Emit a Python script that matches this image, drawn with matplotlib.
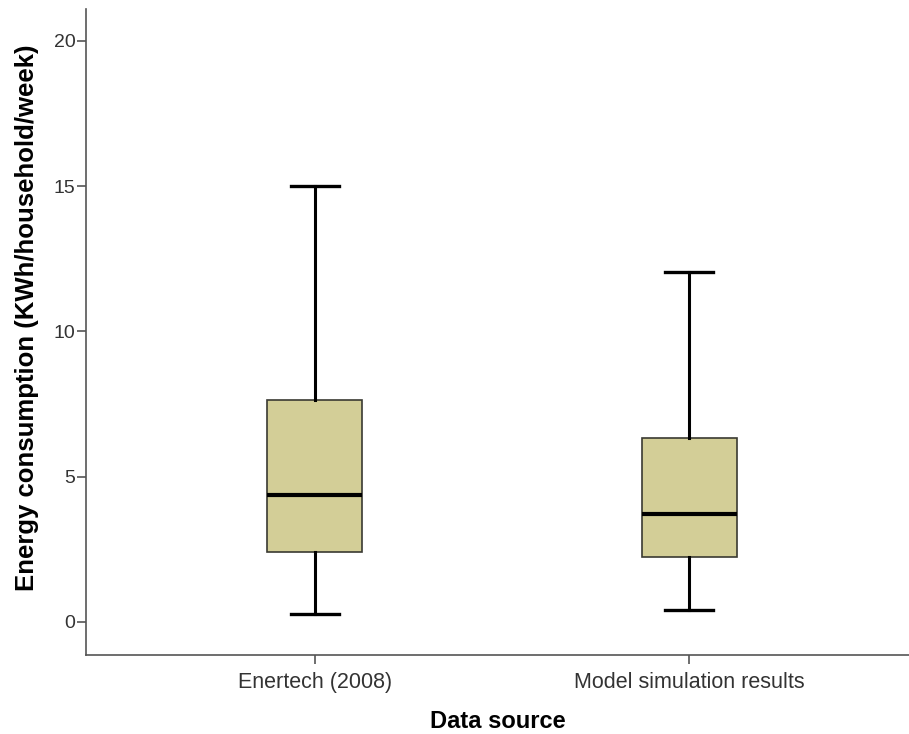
import matplotlib
matplotlib.use("Agg")
import matplotlib.pyplot as plt

# data
sources = ["Enertech (2008)", "Model simulation results"]
whisker_low = [0.27, 0.41]
q1 = [2.42, 2.23]
medians = [4.36, 3.71]
q3 = [7.64, 6.34]
whisker_high = [15.01, 12.05]
yticks = [0, 5, 10, 15, 20]

plt.rcParams['font.family'] = ['Liberation Sans', 'DejaVu Sans']

fig = plt.figure(figsize=(9.09, 7.34), dpi=100)
ax = fig.add_axes([0.0946, 0.1076, 0.9054, 0.8801])

stats = []
for i, name in enumerate(sources):
    stats.append({'label': name, 'whislo': whisker_low[i], 'q1': q1[i], 'med': medians[i],
                  'q3': q3[i], 'whishi': whisker_high[i], 'fliers': []})

ax.bxp(stats, positions=[1, 2], widths=0.254, patch_artist=True, showfliers=False,
       boxprops=dict(facecolor='#d3ce97', edgecolor='#3a3a32', linewidth=1.2),
       medianprops=dict(color='black', linewidth=3),
       whiskerprops=dict(color='black', linewidth=2.2),
       capprops=dict(color='black', linewidth=2.4),
       capwidths=0.127)

ax.set_xlim(0.388, 2.588)
ax.set_ylim(-1.14, 21.1)
ax.set_yticks(yticks)
ax.set_xticks([1, 2])
ax.set_xticklabels(sources)

for s in ['top', 'right']:
    ax.spines[s].set_visible(False)
for s in ['left', 'bottom']:
    ax.spines[s].set_color('#555555')
    ax.spines[s].set_linewidth(1.2)

ax.tick_params(axis='both', direction='out', length=6.5, width=1.2, color='#555555',
               labelcolor='#333333')
ax.tick_params(axis='y', labelsize=14, pad=1)
ax.tick_params(axis='x', labelsize=15.5, pad=6)

ax.set_xlabel('Data source', fontsize=17, fontweight='bold')
ax.set_ylabel('Energy consumption (KWh/household/week)', fontsize=18.5, fontweight='bold')
ax.xaxis.set_label_coords(0.5, -0.085)
ax.yaxis.set_label_coords(-0.057, 0.522)

fig.savefig('out.png', dpi=100)
